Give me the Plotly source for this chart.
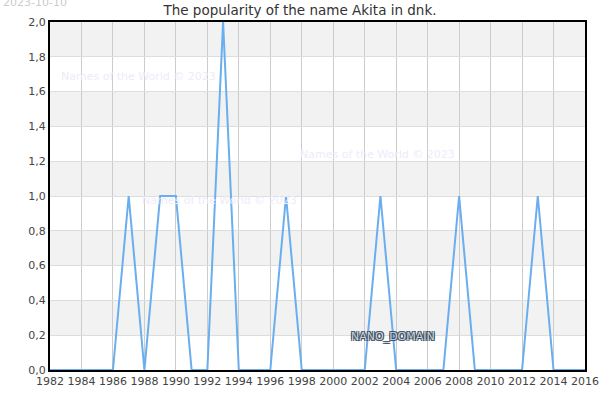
import plotly.graph_objects as go

years = list(range(1982, 2017))
values = [0, 0, 0, 0, 0, 1, 0, 1, 1, 0, 0, 2, 0, 0, 0, 1, 0, 0, 0, 0,
          0, 1, 0, 0, 0, 0, 1, 0, 0, 0, 0, 1, 0, 0, 0]
y_ticks = [0.0, 0.2, 0.4, 0.6, 0.8, 1.0, 1.2, 1.4, 1.6, 1.8, 2.0]
x_ticks = list(range(1982, 2017, 2))
title_text = "The popularity of the name Akita in dnk."
date_text = "2023-10-10"
watermark = "Names of the World © 2023"
domain_text = "NANO_DOMAIN"

FONT = "DejaVu Sans"

fig = go.Figure()
fig.add_trace(go.Scatter(
    x=years, y=values, mode="lines",
    line=dict(color="#6aaef0", width=2),
    hoverinfo="skip", showlegend=False,
))

shapes = []
for i in range(1, len(y_ticks) - 1, 2):
    shapes.append(dict(type="rect", xref="paper", yref="y", x0=0, x1=1,
                       y0=y_ticks[i], y1=y_ticks[i + 1],
                       fillcolor="#f2f2f2", line=dict(width=0), layer="below"))

outline = ("-1px -1px 0 #3d4f63, 1px -1px 0 #3d4f63, "
           "-1px 1px 0 #3d4f63, 1px 1px 0 #3d4f63")

annotations = [
    dict(text=date_text, xref="paper", yref="paper", x=-0.0915, y=1.0546,
         xanchor="left", yanchor="middle", showarrow=False,
         font=dict(family=FONT, size=11, color="#cccccc")),
    dict(text=watermark, xref="paper", yref="paper", x=0.017, y=0.843,
         xanchor="left", yanchor="middle", showarrow=False,
         font=dict(family=FONT, size=11, color="#ececfb")),
    dict(text=watermark, xref="paper", yref="paper", x=0.463, y=0.62,
         xanchor="left", yanchor="middle", showarrow=False,
         font=dict(family=FONT, size=11, color="#ececfb")),
    dict(text=watermark, xref="paper", yref="paper", x=0.168, y=0.488,
         xanchor="left", yanchor="middle", showarrow=False,
         font=dict(family=FONT, size=11, color="#ececfb")),
    dict(text=domain_text, xref="paper", yref="paper", x=0.642, y=0.095,
         xanchor="center", yanchor="middle", showarrow=False,
         font=dict(family=FONT, size=11, color="#c9d1db", shadow=outline)),
]

fig.update_layout(
    width=600, height=400,
    margin=dict(l=50, r=15, t=22, b=30),
    paper_bgcolor="white", plot_bgcolor="white",
    title=dict(text=title_text, x=0.5, xanchor="center", y=0.975, yanchor="middle",
               font=dict(family=FONT, size=13.5, color="#333333")),
    font=dict(family=FONT, size=11, color="#444444"),
    shapes=shapes, annotations=annotations,
    xaxis=dict(range=[1982, 2016], tickvals=x_ticks, ticktext=[str(t) for t in x_ticks],
               showgrid=True, gridcolor="#cccccc", gridwidth=1,
               showline=True, linecolor="black", linewidth=2, mirror=True,
               ticks="", zeroline=False, fixedrange=True, automargin=False,
               tickfont=dict(family=FONT, size=11, color="#444444")),
    yaxis=dict(range=[0, 2], tickvals=y_ticks,
               ticktext=[f"{v:.1f}".replace(".", ",") for v in y_ticks],
               showgrid=True, gridcolor="#dddddd", gridwidth=1,
               showline=True, linecolor="black", linewidth=2, mirror=True,
               ticks="", zeroline=False, fixedrange=True, automargin=False,
               tickfont=dict(family=FONT, size=11, color="#444444")),
)

fig.write_html("out.html", config={"displayModeBar": False},
               post_script="document.body.style.margin='0';")
